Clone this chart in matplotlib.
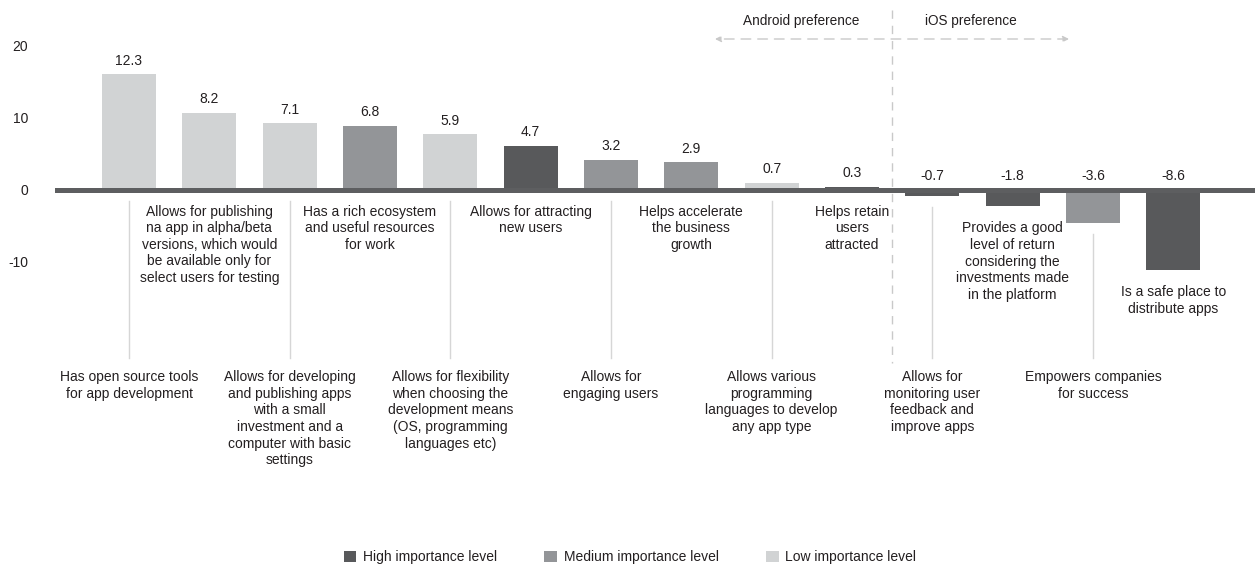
import matplotlib
matplotlib.use("Agg")
import matplotlib.pyplot as plt
from matplotlib.patches import Patch

plt.rcParams["font.family"] = ["Liberation Sans", "DejaVu Sans"]

# ---- data -------------------------------------------------------------
categories = [
    "Has open source tools\nfor app development",
    "Allows for publishing\nna app in alpha/beta\nversions, which would\nbe available only for\nselect users for testing",
    "Allows for developing\nand publishing apps\nwith a small\ninvestment and a\ncomputer with basic\nsettings",
    "Has a rich ecosystem\nand useful resources\nfor work",
    "Allows for flexibility\nwhen choosing the\ndevelopment means\n(OS, programming\nlanguages etc)",
    "Allows for attracting\nnew users",
    "Allows for\nengaging users",
    "Helps accelerate\nthe business\ngrowth",
    "Allows various\nprogramming\nlanguages to develop\nany app type",
    "Helps retain\nusers\nattracted",
    "Allows for\nmonitoring user\nfeedback and\nimprove apps",
    "Provides a good\nlevel of return\nconsidering the\ninvestments made\nin the platform",
    "Empowers companies\nfor success",
    "Is a safe place to\ndistribute apps",
]
values = [12.3, 8.2, 7.1, 6.8, 5.9, 4.7, 3.2, 2.9, 0.7, 0.3, -0.7, -1.8, -3.6, -8.6]
importance = ["Low", "Low", "Low", "Medium", "Low", "High", "Medium", "Medium",
              "Low", "High", "High", "High", "Medium", "High"]
level_names = ["High", "Medium", "Low"]
axis_ticks = [20, 10, 0, -10]
side_labels = ["Android preference", "iOS preference"]

# ---- style ------------------------------------------------------------
colors = {"High": "#58595b", "Medium": "#939598", "Low": "#d1d3d4"}
TEXT = "#231f20"
LEADER = "#d6d6d6"
DASH = "#c9c9c9"
ZERO = "#5d5e60"
AXIS_SCALE = 1.3          # axis units per value unit

W, H = 1255, 569
ZERO_PX = 189.5           # baseline, pixels from top
PX_PER_UNIT = 9.36        # pixels per value unit


def py(p):
    """pixels-from-top -> y value units"""
    return (ZERO_PX - p) / PX_PER_UNIT


fig = plt.figure(figsize=(W / 100, H / 100), dpi=100)
ax = fig.add_axes([55 / W, 0, 1200 / W, 1])
x_step = 80.33
ax.set_xlim((55 - 129) / x_step, (1255 - 129) / x_step)
ax.set_ylim(py(H), py(0))
for s in ax.spines.values():
    s.set_visible(False)
ax.set_xticks([])
ax.set_yticks([t / AXIS_SCALE for t in axis_ticks])
ax.set_yticklabels([str(t) for t in axis_ticks])
ax.tick_params(axis="y", length=0, pad=19.5, labelsize=10, labelcolor=TEXT)

xs = list(range(len(values)))
bar_colors = [colors[k] for k in importance]
ax.bar(xs, values, width=0.672, color=bar_colors, zorder=2)
ax.axhline(0, color=ZERO, lw=3.6, zorder=3)

PT = 0.72  # points per pixel
for i, (v, lab) in enumerate(zip(values, categories)):
    top = max(v, 0)
    low = min(v, 0)
    ax.annotate(f"{v:.1f}", xy=(i, top), xytext=(0, 13.5 * PT),
                textcoords="offset points", ha="center", va="center",
                fontsize=10, color=TEXT)
    if i % 2 == 1:
        ax.annotate(lab, xy=(i, low), xytext=(0, -15 * PT),
                    textcoords="offset points", ha="center", va="top",
                    fontsize=10, color=TEXT, linespacing=1.24)
    else:
        y_start = low - 11 / PX_PER_UNIT
        ax.plot([i, i], [y_start, py(358)], color=LEADER, lw=1, zorder=1)
        ax.text(i, py(370), lab, ha="center", va="top", fontsize=10,
                color=TEXT, linespacing=1.24)

# divider between Android and iOS preference
div_x = 9.5
ax.plot([div_x, div_x], [py(10), py(363)], color=DASH, lw=1,
        dashes=(6, 5), zorder=1)
arrow_y = py(39)
ax.annotate("", xy=((715 - 129) / x_step, arrow_y),
            xytext=((1069 - 129) / x_step, arrow_y),
            arrowprops=dict(arrowstyle="<|-|>", color=DASH, lw=1,
                            linestyle=(0, (7, 5)), mutation_scale=9,
                            shrinkA=0, shrinkB=0))
ax.text((801 - 129) / x_step, py(21), side_labels[0], ha="center",
        va="center", fontsize=9.8, color=TEXT)
ax.text((971 - 129) / x_step, py(21), side_labels[1], ha="center",
        va="center", fontsize=9.8, color=TEXT)

handles = [Patch(facecolor=colors[k], edgecolor="none") for k in level_names]
fig.legend(handles, [f"{k} importance level" for k in level_names],
           loc="center", bbox_to_anchor=(0.502, 1 - 557.5 / H), ncol=3,
           frameon=False, fontsize=10, handlelength=0.9, handleheight=0.9,
           handletextpad=0.5, columnspacing=3.4, labelcolor=TEXT)

fig.savefig("out.png", dpi=100)
